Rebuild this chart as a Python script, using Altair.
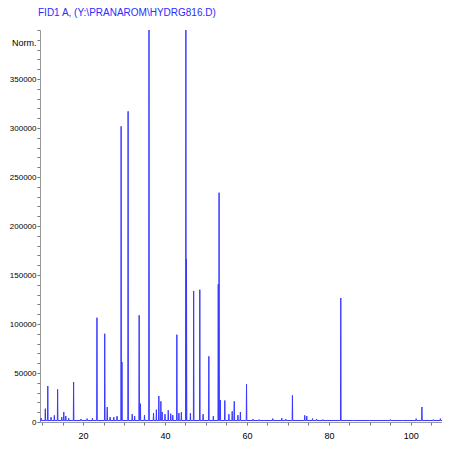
import altair as alt
import pandas as pd

# Retention times (min) and heights (counts) of the main peaks
peak_times = [10.8, 11.4, 13.0, 13.8, 14.8, 15.3, 15.8, 17.7, 23.4, 25.3, 25.9, 26.6,
              29.3, 29.5, 31.0, 33.7, 34.0, 36.1, 37.9, 38.5, 39.0, 39.3, 41.4, 42.9,
              43.4, 45.1, 45.25, 47.0, 48.5, 50.7, 53.0, 53.2, 53.5, 54.6, 56.4, 56.9,
              58.4, 59.9, 71.1, 74.1, 74.6, 82.9, 101.3, 102.7, 107.2]
peak_heights = [13600, 36700, 6800, 33400, 5000, 10200, 6100, 40800, 106400, 90100, 15300, 5000,
                301700, 61200, 317000, 108900, 18700, 420000, 12600, 26500, 21100, 10200, 8500, 89100,
                9200, 420000, 166000, 133700, 135000, 67000, 140500, 234000, 22400, 22000, 10900, 21100,
                10200, 38500, 27200, 6800, 6100, 126500, 3400, 15300, 3400]

# Small baseline bumps
noise_times = [9.8, 12.2, 16.5, 19.5, 21.0, 22.3, 27.5, 28.3, 32.0, 32.6, 35.0, 37.2,
               40.0, 40.8, 41.9, 44.0, 46.2, 49.3, 51.8, 55.6, 57.8, 61.5, 63.0, 66.3, 68.5,
               69.5, 76.0, 77.0, 78.5, 86.0, 90.0, 95.0, 98.0, 105.5]
noise_heights = [4000, 5000, 4000, 3000, 3500, 4000, 5000, 6000, 8000, 6000, 7000, 9000,
                 8000, 12000, 7000, 10000, 9000, 8000, 6000, 8000, 7000, 3000, 2500, 3500, 4000,
                 3000, 3500, 3000, 2500, 2000, 2000, 2500, 2000, 2500]

baseline = 1500
half_width = 0.07
x_start, x_end = 5.0, 110.0

y_ticks = list(range(0, 400001, 10000))
x_ticks = list(range(10, 111, 5))

peaks = sorted(zip(peak_times + noise_times, peak_heights + noise_heights))
rows = [{"t": x_start, "v": baseline}]
for t, h in peaks:
    rows.append({"t": t - half_width, "v": baseline})
    rows.append({"t": t, "v": h})
    rows.append({"t": t + half_width, "v": baseline})
rows.append({"t": x_end, "v": baseline})
df = pd.DataFrame(rows)

FONT = "Liberation Sans"

chart = alt.Chart(df).mark_line(color="#3838ff", strokeWidth=1, clip=True, interpolate="linear").encode(
    x=alt.X("t:Q", scale=alt.Scale(domain=[9.5, 107.6], nice=False, zero=False),
            axis=alt.Axis(values=x_ticks, title=None, grid=False,
                          labelExpr="datum.value % 20 === 0 ? datum.label : ''",
                          format="d", tickSize=3, labelPadding=6, labelFontSize=9,
                          labelFont=FONT, labelColor="#000000", domainColor="#999999",
                          tickColor="#777777", labelFlush=False)),
    y=alt.Y("v:Q", scale=alt.Scale(domain=[0, 400000], nice=False),
            axis=alt.Axis(values=y_ticks, title="Norm.", grid=False,
                          labelExpr="datum.value % 50000 === 0 && datum.value <= 350000 ? datum.value + '' : ''",
                          tickSize=3, labelPadding=1, labelFontSize=8, labelFont=FONT,
                          labelColor="#000000", domainColor="#999999", tickColor="#777777",
                          titleAngle=0, titleAlign="right", titleBaseline="middle",
                          titleX=-4, titleY=12, titleFont=FONT, titleFontSize=9,
                          titleFontWeight="normal", titleColor="#000000", labelFlush=False)),
).properties(
    width=402, height=392,
    title=alt.TitleParams("FID1 A,  (Y:\\PRANAROM\\HYDRG816.D)", anchor="start", frame="group",
                          color="#2b2bff", font=FONT, fontSize=10, fontWeight="normal",
                          offset=12, dx=-2),
    autosize=alt.AutoSizeParams(type="none"),
    padding={"left": 32, "top": 22, "right": 0, "bottom": 20},
).configure_view(stroke=None)

chart.save("out.html", embed_options={"renderer": "svg", "actions": False})
